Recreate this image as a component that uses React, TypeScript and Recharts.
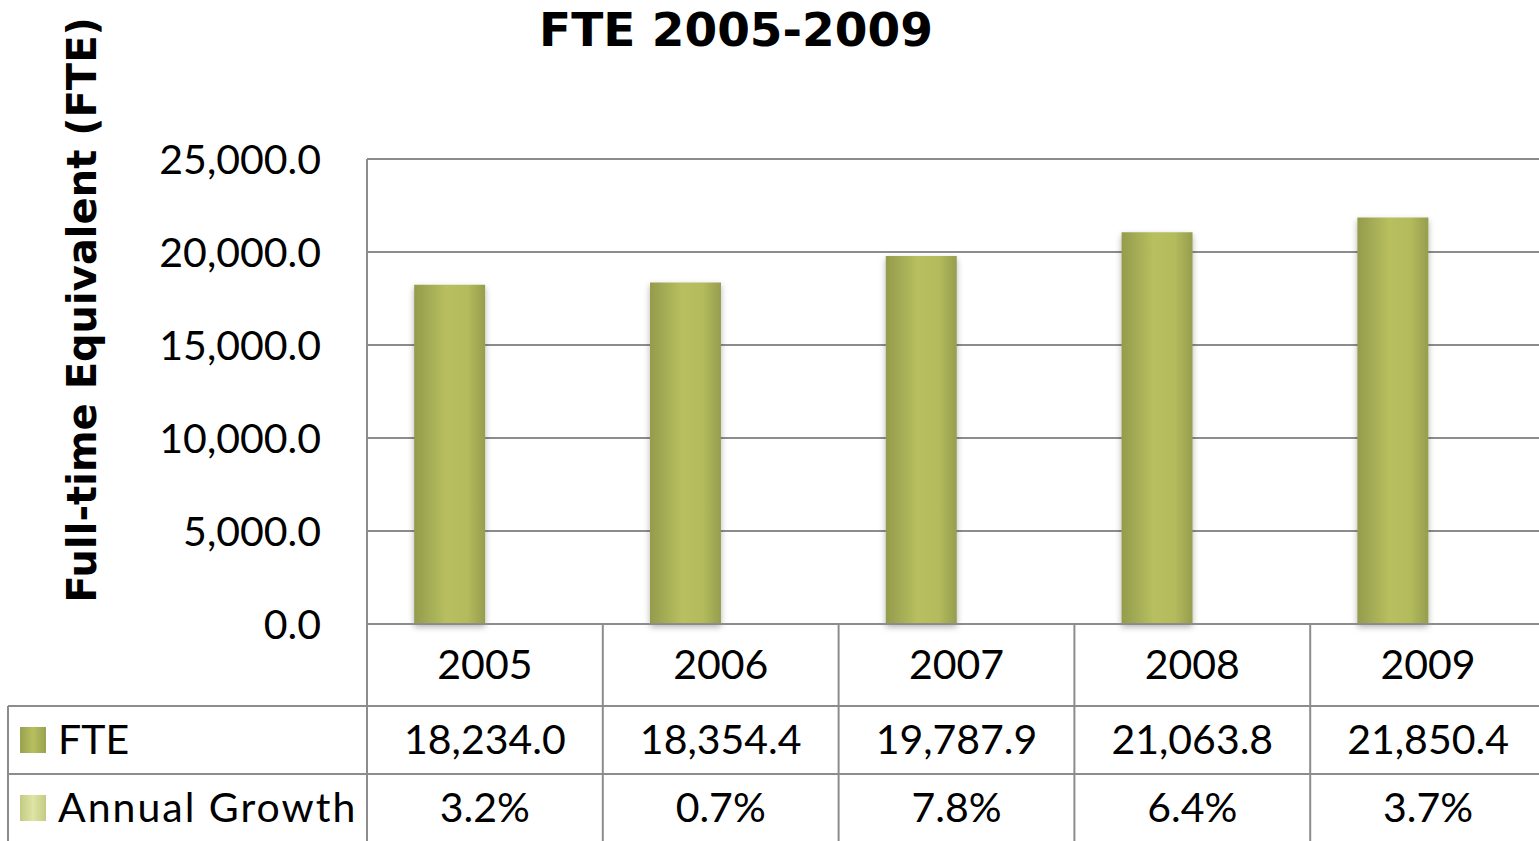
import React from "react";
import { BarChart, Bar, XAxis, YAxis, CartesianGrid, Customized } from "recharts";

const years = ["2005", "2006", "2007", "2008", "2009"];
const fteValues = [18234.0, 18354.4, 19787.9, 21063.8, 21850.4];
const growthValues = [3.2, 0.7, 7.8, 6.4, 3.7];
const yTicks = [0, 5000, 10000, 15000, 20000, 25000];

const data = years.map((year, i) => ({
  year,
  fte: fteValues[i],
  growth: growthValues[i] / 100,
}));

const CHART_W = 1546;
const CHART_H = 841;
const PLOT_LEFT = 367;
const PLOT_TOP = 159;
const AXIS_H = 217;
const BAND = (CHART_W - PLOT_LEFT) / years.length;
const GRID = "#8c8c8c";
const TICK_FONT = "Lato, 'Open Sans', sans-serif";
const BOLD_FONT = "'DejaVu Sans', Verdana, sans-serif";

const fmt = (v: number) =>
  v.toLocaleString("en-US", { minimumFractionDigits: 1, maximumFractionDigits: 1 });

function TableTick(props: any) {
  const { x, y, payload } = props;
  const i = payload.index;
  const left = x - BAND / 2;
  return (
    <g>
      <line x1={left} x2={left} y1={y} y2={CHART_H} stroke={GRID} strokeWidth={2} />
      <line x1={left} x2={left + BAND} y1={y + 82} y2={y + 82} stroke={GRID} strokeWidth={2} />
      <line x1={left} x2={left + BAND} y1={y + 150} y2={y + 150} stroke={GRID} strokeWidth={2} />
      <text x={x} y={y + 39} textAnchor="middle" dominantBaseline="central" fontSize={41} fontFamily={TICK_FONT} fill="#000">
        {payload.value}
      </text>
      <text x={x} y={y + 114} textAnchor="middle" dominantBaseline="central" fontSize={41} fontFamily={TICK_FONT} fill="#000">
        {fmt(fteValues[i])}
      </text>
      <text x={x} y={y + 182} textAnchor="middle" dominantBaseline="central" fontSize={41} fontFamily={TICK_FONT} fill="#000">
        {growthValues[i].toFixed(1)}%
      </text>
    </g>
  );
}

function Decorations() {
  const axisY = CHART_H - AXIS_H;
  return (
    <g>
      <text x={736} y={29} textAnchor="middle" dominantBaseline="central" fontSize={47} fontWeight="bold" fontFamily={BOLD_FONT} fill="#000">
        FTE 2005-2009
      </text>
      <text
        transform="translate(82,310) rotate(-90)"
        textAnchor="middle"
        dominantBaseline="central"
        fontSize={40}
        fontWeight="bold"
        fontFamily={BOLD_FONT}
        fill="#000"
      >
        Full-time Equivalent (FTE)
      </text>
      <line x1={PLOT_LEFT} x2={PLOT_LEFT} y1={PLOT_TOP} y2={CHART_H} stroke={GRID} strokeWidth={2} />
      <line x1={8} x2={PLOT_LEFT} y1={axisY + 82} y2={axisY + 82} stroke={GRID} strokeWidth={2} />
      <line x1={8} x2={PLOT_LEFT} y1={axisY + 150} y2={axisY + 150} stroke={GRID} strokeWidth={2} />
      <line x1={8} x2={8} y1={axisY + 82} y2={CHART_H} stroke={GRID} strokeWidth={2} />
      <rect x={20} y={axisY + 103} width={26} height={26} fill="url(#fteSwatch)" />
      <text x={58} y={axisY + 114} dominantBaseline="central" fontSize={41} fontFamily={TICK_FONT} fill="#000">
        FTE
      </text>
      <rect x={20} y={axisY + 171} width={26} height={26} fill="url(#growthSwatch)" />
      <text x={58} y={axisY + 182} dominantBaseline="central" fontSize={41} letterSpacing={2} fontFamily={TICK_FONT} fill="#000">
        Annual Growth
      </text>
    </g>
  );
}

export default function App() {
  return (
    <div style={{ position: "absolute", left: 0, top: 0, width: 1539, height: 841, overflow: "hidden", background: "#fff" }}>
      <BarChart
        width={CHART_W}
        height={CHART_H}
        data={data}
        margin={{ top: PLOT_TOP, right: 0, left: 0, bottom: 0 }}
        barCategoryGap="20%"
        barGap={0}
      >
        <defs>
          <linearGradient id="fteGrad" x1="0" y1="0" x2="1" y2="0">
            <stop offset="0%" stopColor="#949b4c" />
            <stop offset="45%" stopColor="#b7bf5f" />
            <stop offset="75%" stopColor="#b3bb5c" />
            <stop offset="100%" stopColor="#969d4e" />
          </linearGradient>
          <linearGradient id="fteSwatch" x1="0" y1="0" x2="1" y2="0">
            <stop offset="0%" stopColor="#9aa150" />
            <stop offset="50%" stopColor="#b7bf5f" />
            <stop offset="100%" stopColor="#9aa150" />
          </linearGradient>
          <linearGradient id="growthSwatch" x1="0" y1="0" x2="1" y2="0">
            <stop offset="0%" stopColor="#c3cb82" />
            <stop offset="50%" stopColor="#dde4a6" />
            <stop offset="100%" stopColor="#c3cb82" />
          </linearGradient>
          <filter id="barShadow" x="-20%" y="-5%" width="140%" height="110%">
            <feDropShadow dx="0" dy="3" stdDeviation="3" floodColor="#000" floodOpacity="0.3" />
          </filter>
        </defs>
        <CartesianGrid vertical={false} stroke={GRID} strokeWidth={2} />
        <XAxis
          dataKey="year"
          height={AXIS_H}
          tickLine={false}
          tickSize={0}
          tickMargin={0}
          axisLine={{ stroke: GRID, strokeWidth: 2 }}
          tick={<TableTick />}
          interval={0}
        />
        <YAxis
          width={PLOT_LEFT}
          domain={[0, 25000]}
          ticks={yTicks}
          tickFormatter={fmt}
          tickLine={false}
          axisLine={{ stroke: GRID, strokeWidth: 2 }}
          tickMargin={40}
          tick={{ fill: "#000", fontSize: 41, fontFamily: TICK_FONT }}
        />
        <Bar dataKey="fte" name="FTE" fill="url(#fteGrad)" filter="url(#barShadow)" isAnimationActive={false} />
        <Bar dataKey="growth" name="Annual Growth" fill="#d3dc98" isAnimationActive={false} />
        <Customized component={Decorations} />
      </BarChart>
    </div>
  );
}
